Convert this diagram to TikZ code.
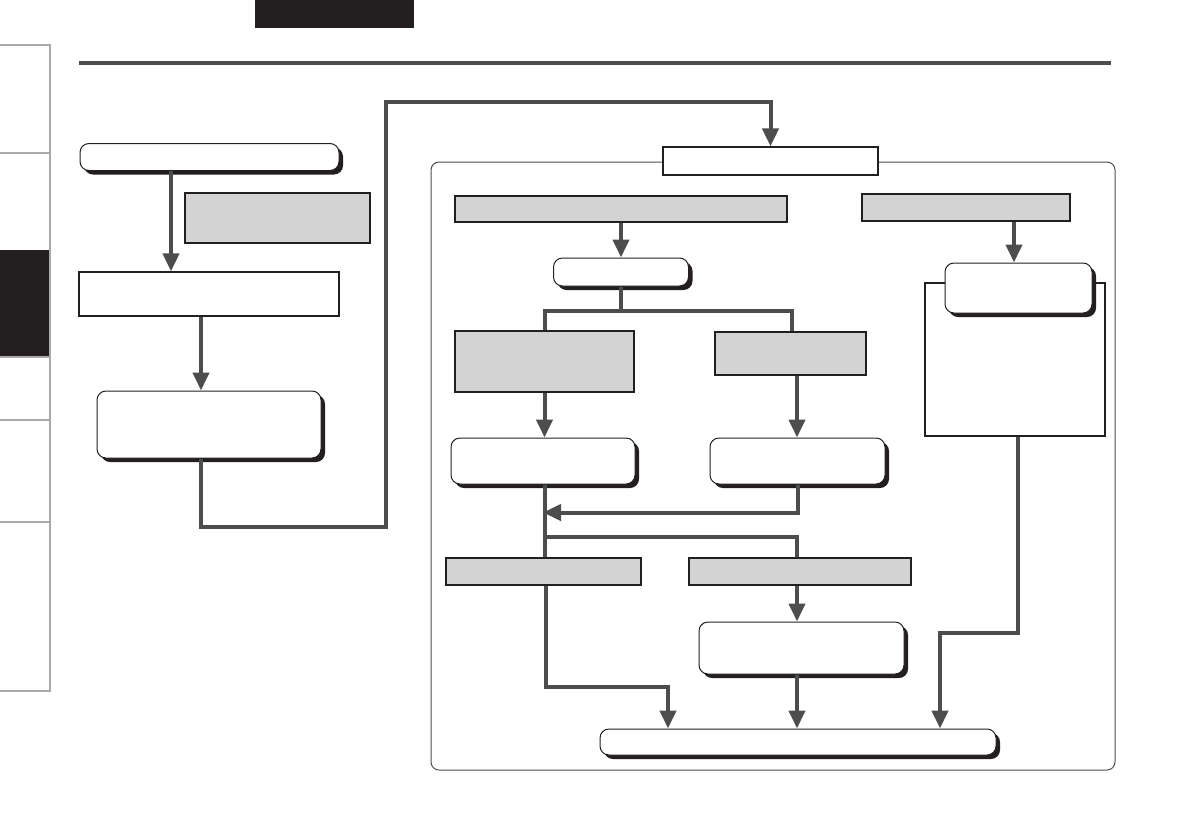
\documentclass[tikz,border=0pt]{standalone}
\usetikzlibrary{arrows.meta,shadows}
\definecolor{flowgray}{HTML}{4D4D4D}
\definecolor{panelgray}{HTML}{D3D3D3}
\definecolor{inkblack}{HTML}{231F20}
\definecolor{tabgray}{HTML}{AAAAAA}
\begin{document}
\begin{tikzpicture}[x=1pt, y=-1pt,
  flow/.style={draw=flowgray, line width=4pt, -{Triangle[length=18pt,width=16pt]}},
  link/.style={draw=flowgray, line width=4pt},
  plainbox/.style={draw=inkblack, line width=1.2pt, fill=white, inner sep=0pt},
  greybox/.style={draw=inkblack, line width=2pt, fill=panelgray, inner sep=0pt},
  roundbox/.style={draw=inkblack, line width=1pt, fill=white, rounded corners=9pt, inner sep=0pt,
    drop shadow={shadow xshift=4pt, shadow yshift=-4pt, fill=inkblack, opacity=1}}]
  \useasboundingbox (0,0) rectangle (1191,839);
  % side tabs and page header
  \fill[inkblack] (0,250) rectangle (50,357);
  \draw[tabgray, line width=1.5pt] (0,45) -- (50,45) -- (50,691) -- (0,691);
  \foreach \ty in {153,357,420,522}
    \draw[tabgray, line width=1.5pt] (0,\ty) -- (50,\ty);
  \fill[inkblack] (255,0) rectangle (414,28);
  \draw[flowgray, line width=4pt] (79,63) -- (1111,63);

  % left column
  \node[roundbox, minimum width=259pt, minimum height=27pt] (start) at (209.5,157) {};
  \node[greybox, minimum width=185pt, minimum height=50pt] (note) at (277.5,218) {};
  \node[plainbox, minimum width=260pt, minimum height=44pt] (setup) at (209,294) {};
  \node[roundbox, minimum width=224pt, minimum height=67pt] (prep) at (209,424.5) {};

  % right panel
  \draw[inkblack!80, line width=1pt, rounded corners=8pt] (431,162) rectangle (1115,770);
  \node[plainbox, minimum width=215pt, minimum height=28pt] (mode) at (770.5,161) {};
  \node[greybox, minimum width=332pt, minimum height=26pt] (pathA) at (621,209) {};
  \node[greybox, minimum width=208pt, minimum height=27pt] (pathB) at (966,207.5) {};
  \node[roundbox, minimum width=135pt, minimum height=28pt] (pick) at (621,272) {};
  \node[greybox, line width=1.2pt, minimum width=179pt, minimum height=61pt] (optA) at (544.5,361.5) {};
  \node[greybox, minimum width=151pt, minimum height=43pt] (optB) at (790.5,353.5) {};
  \node[roundbox, minimum width=184pt, minimum height=46pt] (stepA) at (543,461) {};
  \node[roundbox, minimum width=175pt, minimum height=46pt] (stepB) at (797.5,461) {};
  \node[greybox, minimum width=195pt, minimum height=27pt] (endA) at (543.5,571.5) {};
  \node[greybox, minimum width=222pt, minimum height=27pt] (endB) at (800,571.5) {};
  \node[roundbox, minimum width=205pt, minimum height=52pt] (stepC) at (801.5,648) {};
  \node[plainbox, minimum width=180pt, minimum height=153pt] (info) at (1015,359.5) {};
  \node[roundbox, minimum width=147pt, minimum height=50pt] (stepD) at (1018.5,288) {};
  \node[roundbox, minimum width=396pt, minimum height=26pt] (finish) at (798,742) {};

  % connectors
  \coordinate (turn) at (386,102);
  \draw[flow] ([xshift=-38.5pt]start.south) -- ([xshift=-38.5pt]start.south |- setup.north);
  \draw[flow] ([xshift=-8pt]setup.south) -- ([xshift=-8pt]setup.south |- prep.north);
  \draw[flow] ([xshift=-8pt]prep.south) -- ++(0,68) -| (turn) -| (mode.north);
  \draw[flow] (pathA.south) -- (pathA.south |- pick.north);
  \draw[link] (pick.south) -- ++(0,24) coordinate (fork);
  \draw[link] (optA.north) |- (fork) -| ([xshift=1.5pt]optB.north);
  \draw[flow] (optA.south) -- (optA.south |- stepA.north);
  \draw[flow] ([xshift=6.5pt]optB.south) -- ([xshift=6.5pt]optB.south |- stepB.north);
  \draw[flow] (stepB.south) -- ++(0,28) coordinate (back) -- (back -| stepA.south);
  \draw[link] ([xshift=2pt]stepA.south) -- ([xshift=2pt]stepA.south |- endA.north);
  \draw[link] ([xshift=2pt]stepA.south) ++(0,52) -| ([xshift=-3pt]endB.north);
  \draw[flow] ([xshift=-3pt]endB.south) -- ([xshift=-3pt]endB.south |- stepC.north);
  \draw[flow] ([xshift=2.5pt]endA.south) -- ++(0,101) -| ([xshift=-130pt]finish.north);
  \draw[flow] ([xshift=-4.5pt]stepC.south) -- ([xshift=-4.5pt]stepC.south |- finish.north);
  \draw[flow] ([xshift=48pt]pathB.south) -- ([xshift=48pt]pathB.south |- stepD.north);
  \draw[flow] ([xshift=3pt]info.south) -- ++(0,196) -| ([xshift=142pt]finish.north);
\end{tikzpicture}
\end{document}
